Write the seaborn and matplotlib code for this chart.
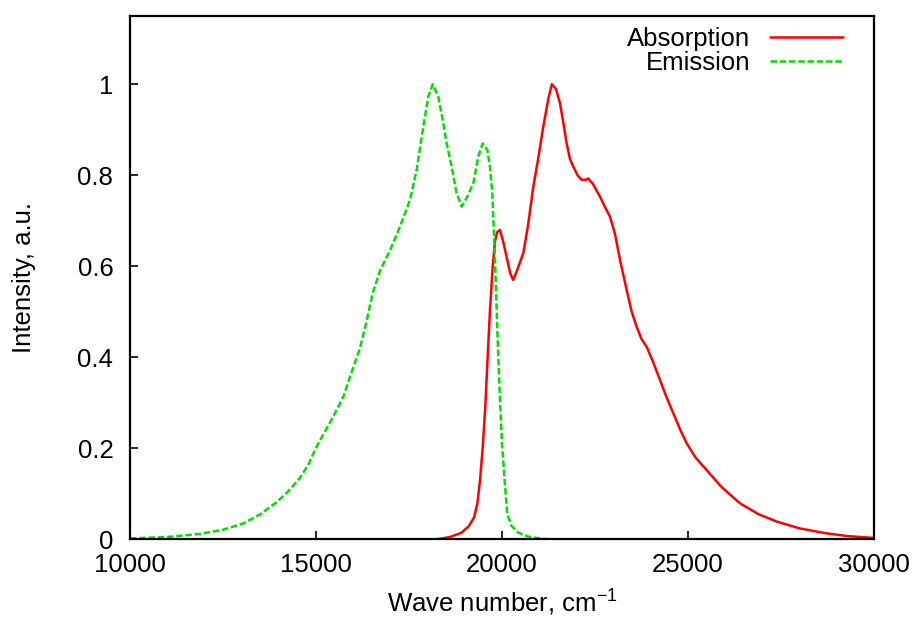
import numpy as np
import pandas as pd
import matplotlib
matplotlib.use("Agg")
import matplotlib.pyplot as plt
import seaborn as sns

# ---- data ----
abs_x = [18250, 18600, 18900, 19100, 19250, 19340, 19410, 19480, 19550, 19620, 19677, 19750,
         19812, 19870, 19946, 20030, 20125, 20220, 20300, 20400, 20573, 20700, 20842,
         20980, 21110, 21250, 21340, 21450, 21559, 21650, 21738, 21830, 21917, 22030,
         22142, 22250, 22320, 22450, 22634, 22770, 22903, 23040, 23172, 23351, 23486,
         23620, 23750, 23889, 24060, 24247, 24420, 24605, 24780, 24964, 25200, 25502,
         25900, 26398, 26900, 27384, 28000, 28728, 29300, 30000]
abs_y = [0.0, 0.005, 0.014, 0.028, 0.048, 0.08, 0.13, 0.20, 0.29, 0.41, 0.504, 0.60,
         0.655, 0.675, 0.68, 0.655, 0.62, 0.585, 0.57, 0.59, 0.629, 0.69, 0.775,
         0.84, 0.907, 0.97, 1.0, 0.99, 0.958, 0.915, 0.87, 0.835, 0.819, 0.80,
         0.79, 0.79, 0.793, 0.78, 0.753, 0.73, 0.709, 0.67, 0.614, 0.548, 0.50,
         0.467, 0.44, 0.423, 0.39, 0.350, 0.313, 0.277, 0.243, 0.211, 0.18, 0.152,
         0.115, 0.079, 0.055, 0.039, 0.024, 0.013, 0.007, 0.003]

em_x = [10000, 11000, 11900, 12500, 13050, 13500, 13950, 14250, 14570, 14800, 15018,
        15466, 15734, 15914, 16183, 16362, 16520, 16720, 16989, 17258, 17527, 17706,
        17885, 18020, 18140, 18288, 18423, 18513, 18647, 18782, 18916, 19067, 19228,
        19362, 19480, 19605, 19677, 19740, 19776, 19812, 19857, 19900, 19950, 20000,
        20070, 20140, 20250, 20430, 20700, 21000, 21260]
em_y = [0.002, 0.005, 0.012, 0.021, 0.035, 0.055, 0.082, 0.105, 0.135, 0.165, 0.204,
        0.27, 0.313, 0.357, 0.420, 0.480, 0.54, 0.590, 0.635, 0.687, 0.746, 0.812,
        0.907, 0.973, 1.0, 0.973, 0.914, 0.870, 0.819, 0.760, 0.731, 0.753, 0.782,
        0.841, 0.870, 0.856, 0.819, 0.760, 0.687, 0.614, 0.504, 0.40, 0.30, 0.21,
        0.13, 0.057, 0.03, 0.015, 0.006, 0.002, 0.0]

x_ticks = [10000, 15000, 20000, 25000, 30000]
y_ticks = [0, 0.2, 0.4, 0.6, 0.8, 1]
y_tick_labels = ["0", "0.2", "0.4", "0.6", "0.8", "1"]

sns.set_theme(style="white")
plt.rcParams['font.family'] = ['Liberation Sans', 'DejaVu Sans']
plt.rcParams['mathtext.fontset'] = 'custom'
plt.rcParams['mathtext.rm'] = 'Liberation Sans'
plt.rcParams['mathtext.it'] = 'Liberation Sans'
plt.rcParams['mathtext.default'] = 'regular'
plt.rcParams['text.color'] = 'black'
plt.rcParams['axes.labelcolor'] = 'black'
plt.rcParams['xtick.color'] = 'black'
plt.rcParams['ytick.color'] = 'black'

fig = plt.figure(figsize=(9.19, 6.21), dpi=100)
ax = fig.add_axes([130/919, 1 - 539.3/621, 744/919, 523.3/621])

df_abs = pd.DataFrame({"x": abs_x, "y": abs_y})
df_em = pd.DataFrame({"x": em_x, "y": em_y})

sns.lineplot(data=df_abs, x="x", y="y", ax=ax, color="#ff0000", linewidth=1.8,
             label="Absorption")
sns.lineplot(data=df_em, x="x", y="y", ax=ax, color="#00e000", linewidth=1.8,
             linestyle=(0, (2.6, 1.1)), label="Emission")

ax.set_xlim(10000, 30000)
ax.set_ylim(0, 1.15)
ax.set_xticks(x_ticks)
ax.set_xticklabels([str(v) for v in x_ticks])
ax.set_yticks(y_ticks)
ax.set_yticklabels(y_tick_labels)

for s in ax.spines.values():
    s.set_visible(True)
    s.set_color("black")
    s.set_linewidth(1.6)

ax.tick_params(axis='both', direction='in', length=6, width=1.2, colors='black',
               labelcolor='black', labelsize=18.5, bottom=True, left=True,
               top=False, right=False)
ax.tick_params(axis='y', pad=12)
ax.tick_params(axis='x', pad=10)

ax.set_xlabel(r"Wave number, cm$^{-1}$", fontsize=18.5, labelpad=8, color='black')
ax.set_ylabel("Intensity, a.u.", fontsize=18.5, labelpad=30, color='black')

leg = ax.legend(loc="upper right", bbox_to_anchor=((843 - 130) / 744, (539.3 - 27) / 523.3),
                frameon=False, markerfirst=False, fontsize=18.5, handlelength=2.85,
                handletextpad=0.75, labelspacing=0.0, borderpad=0, borderaxespad=0)
for t in leg.get_texts():
    t.set_color('black')

fig.savefig("out.png", dpi=100)
